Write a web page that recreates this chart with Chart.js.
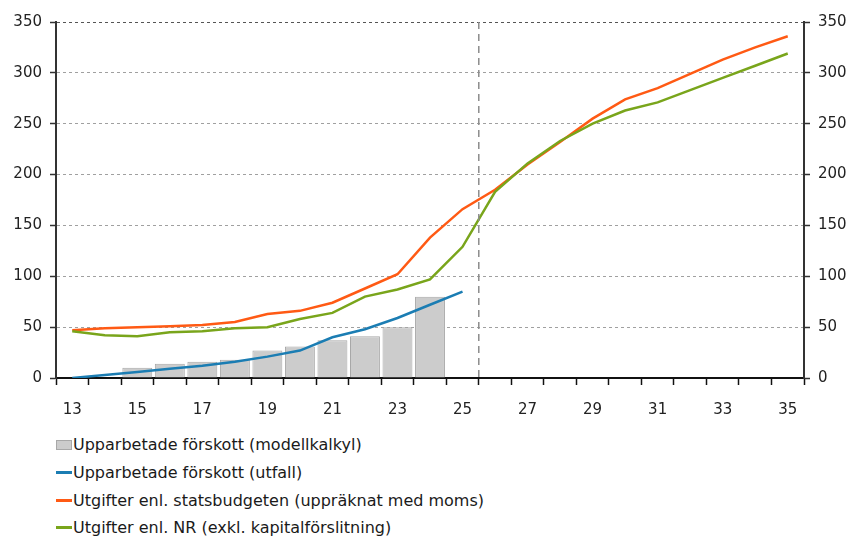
<!DOCTYPE html>
<html>
<head>
<meta charset="utf-8">
<script src="https://cdn.jsdelivr.net/npm/chart.js@4.4.0/dist/chart.umd.min.js"></script>
<style>
body { margin: 0; background: #fff; font-family: "DejaVu Sans", Verdana, sans-serif; }
#wrap { position: relative; width: 851px; height: 538px; }
#legend { position: absolute; left: 56px; top: 431px; font-size: 16px; color: #1a1a1a; }
.item { display: flex; align-items: center; height: 27.7px; white-space: nowrap; }
.mark { width: 16px; margin-right: 1px; }
</style>
</head>
<body>
<div id="wrap">
  <canvas id="myChart" width="851" height="420"></canvas>
  <div id="legend"></div>
</div>
<script>
// år (ticks visas varannan)
const years = ['13','14','15','16','17','18','19','20','21','22','23','24','25',
               '26','27','28','29','30','31','32','33','34','35'];

// upparbetade förskott, modellkalkyl (staplar)
const modell = [null, null, 10, 14, 16, 18, 27, 31, 37, 41, 50, 80, null,
                null, null, null, null, null, null, null, null, null, null];
// upparbetade förskott, utfall
const utfall = [0, 3, 6, 9, 12, 16, 21, 27, 40, 48, 59, 72, 85,
                null, null, null, null, null, null, null, null, null, null];
// utgifter enl. statsbudgeten
const statsbudget = [47, 49, 50, 51, 52, 55, 63, 66, 74, 88, 102, 138, 166,
                     185, 210, 232, 255, 274, 285, 299, 313, 325, 336];
// utgifter enl. NR
const nr = [46, 42, 41, 45, 46, 49, 50, 58, 64, 80, 87, 97, 129,
            183, 211, 233, 250, 263, 271, 283, 295, 307, 319];

const yTicks = [0, 50, 100, 150, 200, 250, 300, 350];
const splitAfter = '25';

const tickFont = { family: '"DejaVu Sans", Verdana, sans-serif', size: 15 };

// streckad vertikal linje mellan utfall och prognos
const splitLine = {
    id: 'splitLine',
    afterDatasetsDraw(chart) {
        const x = chart.scales.x;
        const i = years.indexOf(splitAfter);
        const px = (x.getPixelForValue(i) + x.getPixelForValue(i + 1)) / 2;
        const ctx = chart.ctx;
        ctx.save();
        ctx.strokeStyle = '#8c8c8c';
        ctx.lineWidth = 1.5;
        ctx.setLineDash([7, 5]);
        ctx.beginPath();
        ctx.moveTo(px, chart.chartArea.top);
        ctx.lineTo(px, chart.chartArea.bottom);
        ctx.stroke();
        ctx.restore();
    }
};

const data = {
    labels: years,
    datasets: [
        {
            type: 'line',
            label: 'Upparbetade förskott (utfall)',
            data: utfall,
            borderColor: '#1b7db3',
            backgroundColor: '#1b7db3',
            borderWidth: 2.5,
            pointRadius: 0,
            order: 3
        },
        {
            type: 'line',
            label: 'Utgifter enl. statsbudgeten (uppräknat med moms)',
            data: statsbudget,
            borderColor: '#ff5a14',
            backgroundColor: '#ff5a14',
            borderWidth: 2.5,
            pointRadius: 0,
            order: 2
        },
        {
            type: 'line',
            label: 'Utgifter enl. NR (exkl. kapitalförslitning)',
            data: nr,
            borderColor: '#79a51b',
            backgroundColor: '#79a51b',
            borderWidth: 2.5,
            pointRadius: 0,
            order: 1
        },
        {
            type: 'bar',
            label: 'Upparbetade förskott (modellkalkyl)',
            data: modell,
            backgroundColor: '#cccccc',
            borderColor: '#a8a8a8',
            borderWidth: 1,
            barPercentage: 0.92,
            categoryPercentage: 1,
            order: 4
        }
    ]
};

const config = {
    type: 'bar',
    data: data,
    options: {
        responsive: false,
        animation: false,
        layout: { padding: { top: 22, left: 0, right: 0, bottom: 0 } },
        plugins: { legend: { display: false }, tooltip: { enabled: false } },
        scales: {
            x: {
                offset: true,
                grid: { offset: true, drawOnChartArea: false, drawTicks: true, tickLength: 7,
                        tickColor: '#111', tickWidth: 1.5 },
                border: { color: '#111', width: 2 },
                ticks: {
                    autoSkip: false, maxRotation: 0, padding: 16, color: '#222', font: tickFont,
                    callback: (v, i) => (i % 2 === 0 ? years[i] : '')
                },
                afterFit: s => { s.height = 42; }
            },
            y: {
                position: 'left',
                min: 0, max: 350,
                afterBuildTicks: s => { s.ticks = yTicks.map(v => ({ value: v })); },
                grid: {
                    color: c => (c.tick && c.tick.value === 350 ? '#555' : '#a0a0a0'),
                    lineWidth: 1, tickLength: 6, tickColor: '#333', tickWidth: 1.5
                },
                border: { color: '#333', width: 2, dash: [3, 3] },
                ticks: { color: '#222', font: tickFont, padding: 8 },
                afterFit: s => { s.width = 56; }
            },
            y2: {
                position: 'right',
                min: 0, max: 350,
                afterBuildTicks: s => { s.ticks = yTicks.map(v => ({ value: v })); },
                grid: { drawOnChartArea: false, tickLength: 6, tickColor: '#333', tickWidth: 1.5 },
                border: { color: '#333', width: 2 },
                ticks: { color: '#222', font: tickFont, padding: 8 },
                afterFit: s => { s.width = 47; }
            }
        }
    },
    plugins: [splitLine]
};

const myChart = new Chart(document.getElementById('myChart'), config);

// legend under diagrammet, en rad per serie
const legendOrder = [3, 0, 1, 2];
const legend = document.getElementById('legend');
legendOrder.forEach(k => {
    const ds = data.datasets[k];
    const row = document.createElement('div');
    row.className = 'item';
    const mark = document.createElement('span');
    mark.className = 'mark';
    if (ds.type === 'bar') {
        mark.style.height = '8px';
        mark.style.background = ds.backgroundColor;
        mark.style.border = '1px solid ' + ds.borderColor;
        mark.style.width = '14px';
    } else {
        mark.style.height = '3px';
        mark.style.background = ds.borderColor;
    }
    row.appendChild(mark);
    row.appendChild(document.createTextNode(ds.label));
    legend.appendChild(row);
});
</script>
</body>
</html>
